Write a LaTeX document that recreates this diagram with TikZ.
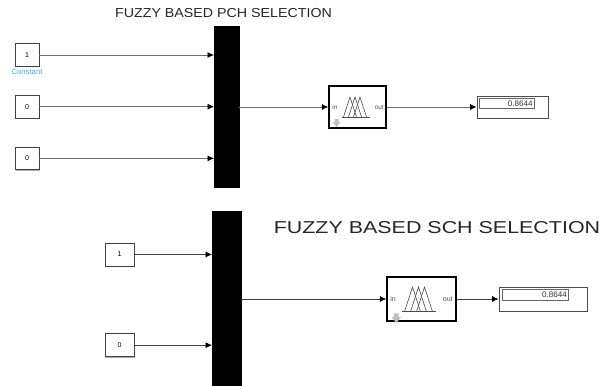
\documentclass[tikz,border=0pt]{standalone}
\usepackage{xcolor}
\usepackage{graphicx}
\usepackage{fontspec}
\setmainfont{Liberation Sans}
\usetikzlibrary{positioning,arrows.meta,shadows}
\definecolor{simgray}{RGB}{110,110,110}
\definecolor{simblue}{RGB}{70,170,225}
\definecolor{arrowgray}{RGB}{190,190,190}
\tikzset{
  constblock/.style={draw=black!75, fill=white, line width=0.4pt, inner sep=0pt,
                     drop shadow={shadow xshift=0.6pt, shadow yshift=-0.6pt, fill=black!45, opacity=.7},
                     font=\fontsize{4}{5}\selectfont},
  muxbar/.style={fill=black, draw=black, inner sep=0pt, outer sep=0pt},
  fisblock/.style={draw=black, fill=white, line width=0.8pt, inner sep=0pt,
                   drop shadow={shadow xshift=0.6pt, shadow yshift=-0.6pt, fill=black!45, opacity=.7}},
  dispblock/.style={draw=black!70, fill=white, line width=0.5pt, inner sep=0pt,
                    drop shadow={shadow xshift=0.5pt, shadow yshift=-0.5pt, fill=black!45, opacity=.7}},
  dispvalue/.style={draw=black!60, fill=white, line width=0.4pt, inner sep=1pt,
                    text=black!80, align=right, font=\fontsize{4.6}{5}\selectfont},
  wire/.style={-{Latex[length=1.3mm,width=1.2mm,black]}, line width=0.4pt, simgray},
  wiredark/.style={wire, black!75},
  port/.style={inner sep=0pt, text=black!70, font=\fontsize{3.6}{4}\selectfont},
  heading/.style={text=black!85, inner sep=0pt},
  fuzzy/.pic={
    \draw[black!70, line width=0.3pt] (-16,10) -- (12,10);
    \draw[black!70, line width=0.35pt] (-14,10) -- (-7.5,-10) -- (-1,10);
    \draw[black!70, line width=0.35pt] (-9,10) -- (-2.5,-10) -- (4,10);
    \draw[black!70, line width=0.35pt] (-4,10) -- (2.5,-10) -- (9,10);
    \fill[arrowgray] (-23,12) -- (-19,12) -- (-19,15) -- (-17,15) -- (-21,20) -- (-25,15) -- (-23,15) -- cycle;
  }
}

\begin{document}
\begin{tikzpicture}[x=0.02cm, y=-0.02cm]
        \useasboundingbox (0,0) rectangle (601,385);
        % upper model
        \node[heading, font=\fontsize{7.4}{9}\selectfont] (title1) at (223.5,13.5) {\scalebox{1.095}[1]{FUZZY BASED PCH SELECTION}};
        \node[constblock, minimum width=4.8mm, minimum height=4.5mm] (c1) at (27,55) {1};
        \node[constblock, minimum width=4.8mm, minimum height=4.5mm, below=5.7mm of c1] (c2) {0};
        \node[constblock, minimum width=4.8mm, minimum height=4.5mm, below=5.7mm of c2] (c3) {0};
        \node[below=0.5mm of c1, inner sep=0pt, text=simblue, font=\fontsize{4.4}{5}\selectfont] (c1lbl) {Constant};
        \node[muxbar, minimum width=5mm, minimum height=32.2mm] (mux1) at (226.5,106.5) {};
        \node[fisblock, minimum width=11.4mm, minimum height=8.4mm] (fis1) at (357.5,107) {};
        \node[dispblock, minimum width=14.2mm, minimum height=4.4mm] (disp1) at (512.5,107) {};
        \node[dispvalue, minimum width=11mm, minimum height=2mm, text width=10.3mm, anchor=north west, inner sep=0.3pt] (val1) at (479,98) {0.8644};
        \pic at (fis1) {fuzzy};
        \node[port, anchor=west] (in1) at (332,107) {in};
        \node[port, anchor=east] (out1) at (384,107) {out};
        \draw[wire] (c1.east) -- (c1.east -| mux1.west);
        \draw[wire] (c2.east) -- (c2.east -| mux1.west);
        \draw[wire] (c3.east) -- (c3.east -| mux1.west);
        \draw[wire] (mux1.east |- fis1.west) -- (fis1.west);
        \draw[wire] (fis1.east) -- (disp1.west);
        % lower model
        \node[heading, font=\fontsize{9.8}{12}\selectfont] (title2) at (437,228) {\scalebox{1.245}[1]{FUZZY BASED SCH SELECTION}};
        \node[constblock, minimum width=5.8mm, minimum height=4.6mm] (c4) at (119.5,254.5) {1};
        \node[constblock, minimum width=5.8mm, minimum height=4.6mm, below=13.4mm of c4] (c5) {0};
        \node[muxbar, minimum width=5.8mm, minimum height=34.8mm] (mux2) at (226.5,298) {};
        \node[fisblock, minimum width=13.8mm, minimum height=8.8mm] (fis2) at (421.5,299) {};
        \node[dispblock, minimum width=17.6mm, minimum height=4.8mm] (disp2) at (543,299) {};
        \node[dispvalue, minimum width=13.2mm, minimum height=2.2mm, text width=12.6mm, anchor=north west, inner sep=0.3pt] (val2) at (502,289) {0.8644};
        \pic[scale=1.2] at (fis2) {fuzzy};
        \node[port, anchor=west, font=\fontsize{4}{5}\selectfont] (in2) at (390,299) {in};
        \node[port, anchor=east, font=\fontsize{4}{5}\selectfont] (out2) at (453,299) {out};
        \draw[wiredark] (c4.east) -- (c4.east -| mux2.west);
        \draw[wiredark] (c5.east) -- (c5.east -| mux2.west);
        \draw[wiredark] (mux2.east |- fis2.west) -- (fis2.west);
        \draw[wiredark] (fis2.east) -- (disp2.west);
\end{tikzpicture}
\end{document}
